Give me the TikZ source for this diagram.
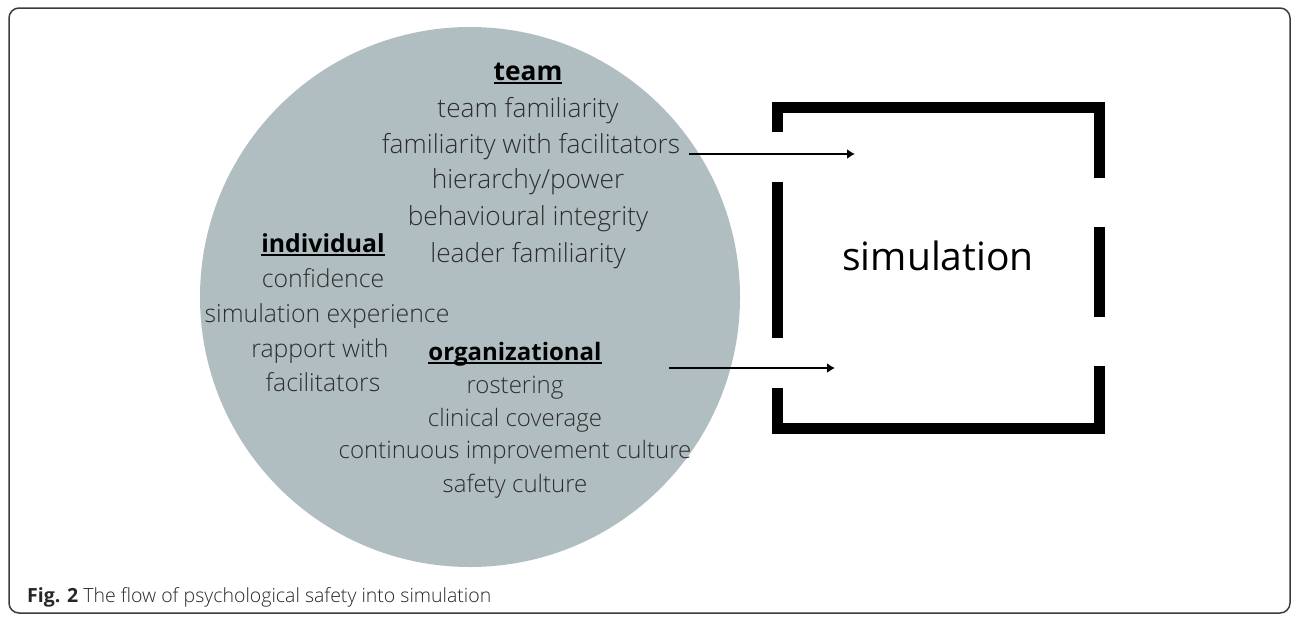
\documentclass[tikz,border=0pt]{standalone}
\usepackage{fontspec}
\setmainfont{Open Sans}
\newfontfamily\lightf{Open Sans Light}
\usetikzlibrary{arrows.meta}
\definecolor{circfill}{RGB}{177,190,193}
\definecolor{bodytext}{RGB}{45,45,45}
\definecolor{framecol}{RGB}{60,60,60}
\newcommand\hdrul[1]{\setbox0\hbox{\bfseries #1}\rlap{\rule[-4pt]{\wd0}{2pt}}\box0}
\begin{document}
\begin{tikzpicture}[x=1pt,y=-1pt,
  body/.style={anchor=base, inner sep=0pt, text=bodytext},
  hdr/.style={anchor=base, inner sep=0pt, text=black},
  teamf/.style={font=\lightf\fontsize{26.3}{30}\selectfont},
  teamh/.style={font=\fontsize{26.3}{30}\selectfont},
  indf/.style={font=\lightf\fontsize{24.8}{30}\selectfont},
  indh/.style={font=\fontsize{24.8}{30}\selectfont},
  orgf/.style={font=\lightf\fontsize{24}{30}\selectfont},
  orgh/.style={font=\fontsize{24}{30}\selectfont},
  wall/.style={line width=11pt, line cap=butt, line join=miter},
  flow/.style={line width=2.3pt, -{Latex[length=8pt,width=10pt]}}]
\useasboundingbox (0,0) rectangle (1292,616);
\node[draw=framecol, line width=1.5pt, rounded corners=10pt, minimum width=1281pt, minimum height=605pt, inner sep=0pt] (frame) at (649.5,310.5) {};
\node[circle, fill=circfill, minimum size=540pt, inner sep=0pt] (circ) at (470,297) {};
% team
\node[hdr, teamh] (team) at (528,80) {\hdrul{team}};
\node[body, teamf] (t1) at (528,117) {team familiarity};
\node[body, teamf] (t2) at (531,153) {familiarity with facilitators};
\node[body, teamf] (t3) at (528,188) {hierarchy/power};
\node[body, teamf] (t4) at (528,225) {behavioural integrity};
\node[body, teamf] (t5) at (528,262) {leader familiarity};
% individual
\node[hdr, indh] (ind) at (323,252) {\hdrul{individual}};
\node[body, indf] (i1) at (323,287) {confidence};
\node[body, indf] (i2) at (327,322) {simulation experience};
\node[body, indf] (i3) at (320,357) {rapport with};
\node[body, indf] (i4) at (323,391) {facilitators};
% organizational
\node[hdr, orgh] (org) at (515,360) {\hdrul{organizational}};
\node[body, orgf] (o1) at (515,393) {rostering};
\node[body, orgf] (o2) at (515,426) {clinical coverage};
\node[body, orgf] (o3) at (515,458) {continuous improvement culture};
\node[body, orgf] (o4) at (515,492) {safety culture};
% simulation box
\draw[wall] (777.5,132) -- (777.5,107.5) -- (1099,107.5) -- (1099,178);
\draw[wall] (777.5,182) -- (777.5,338);
\draw[wall] (777.5,388) -- (777.5,428.5) -- (1099,428.5) -- (1099,366);
\draw[wall] (1099,227) -- (1099,317);
\node[anchor=base, inner sep=0pt, font=\fontsize{39}{46}\selectfont] (sim) at (938,270) {simulation};
% arrows
\coordinate (a1s) at (689,154);
\coordinate (a1e) at (855,154);
\coordinate (a2s) at (669,368);
\coordinate (a2e) at (835,368);
\draw[flow] (a1s) -- (a1e);
\draw[flow] (a2s) -- (a2e);
% caption
\node[anchor=base west, inner sep=0pt, text=black!85, font=\fontsize{19.5}{23}\selectfont] (cap) at (27,602) {\textbf{Fig. 2} {\lightf The flow of psychological safety into simulation}};
\end{tikzpicture}
\end{document}
